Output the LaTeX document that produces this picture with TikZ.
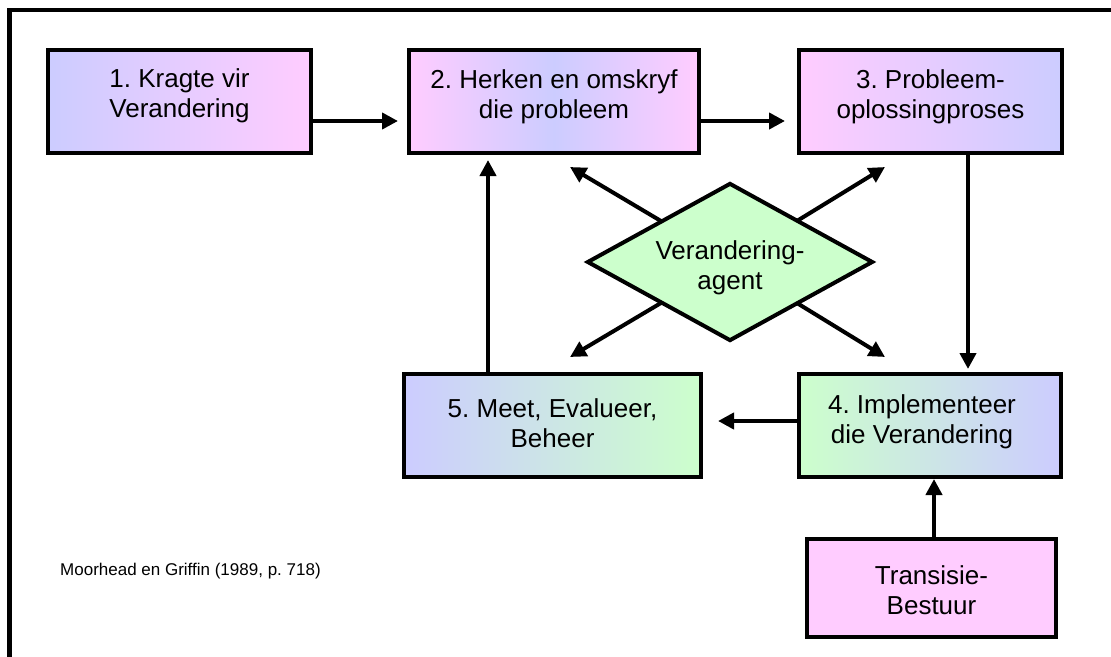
\documentclass[tikz,border=0pt]{standalone}
\usepackage{fontspec}
\setmainfont{Liberation Sans}
\usetikzlibrary{arrows.meta,shapes.geometric,calc}
\definecolor{lav}{RGB}{204,204,255}
\definecolor{pnk}{RGB}{255,204,255}
\definecolor{grn}{RGB}{204,255,204}
\begin{document}
\frenchspacing
\begin{tikzpicture}[x=1pt,y=-1pt,
  box/.style={draw=black,line width=4pt,rectangle,inner sep=0pt},
  btext/.style={align=center,font=\fontsize{26}{30}\selectfont,inner sep=0pt},
  arr/.style={line width=4pt,-{Triangle[length=16pt,width=16pt]}},
]
\useasboundingbox (0,0) rectangle (1111,656);
\fill[white] (0,0) rectangle (1111,656);
\draw[line width=4.5pt] (9.5,700) -- (9.5,10) -- (1200,10);

% boxes
\node[box,minimum width=263pt,minimum height=103pt,left color=lav,right color=pnk] (b1) at (179.5,101.5) {};
\node[box,minimum width=290pt,minimum height=103pt,left color=pnk,right color=pnk,middle color=lav] (b2) at (554,101.5) {};
\node[box,minimum width=263pt,minimum height=103pt,left color=pnk,right color=lav] (b3) at (930.5,101.5) {};
\node[box,minimum width=262pt,minimum height=103pt,left color=grn,right color=lav] (b4) at (930,425.5) {};
\node[box,minimum width=297pt,minimum height=103pt,left color=lav,right color=grn] (b5) at (552.5,425.5) {};
\node[box,minimum width=249pt,minimum height=98pt,fill=pnk] (bt) at (931.5,588) {};

% texts
\node[btext] (t1) at (179.5,96) {1. Kragte vir\\Verandering};
\node[btext] (t2) at (554,97) {2. Herken en omskryf\\die probleem};
\node[btext] (t3) at (930.5,97) {3. Probleem-\\oplossingproses};
\node[btext] (t4) at (922,422) {4. Implementeer\\die Verandering};
\node[btext] (t5) at (552.5,423) {5. Meet, Evalueer,\\Beheer};
\node[btext] (t6) at (931.5,590) {Transisie-\\Bestuur};
\node[font=\fontsize{17}{20}\selectfont,anchor=base west,inner sep=0pt] (src) at (60,575) {Moorhead en Griffin (1989, p. 718)};

% connectors between boxes
\coordinate (p1) at ($(b1.east)+(0,19.5)$);
\draw[arr,shorten >=9pt] (p1) -- (p1 -| b2.west);
\coordinate (p2) at ($(b2.east)+(0,19.5)$);
\draw[arr,shorten >=12pt] (p2) -- (p2 -| b3.west);
\coordinate (p3) at ($(b3.south)+(37.5,0)$);
\draw[arr,shorten >=3pt] (p3) -- (p3 |- b4.north);
\coordinate (p4) at ($(b4.west)+(0,-4.5)$);
\draw[arr,shorten >=15pt] (p4) -- (p4 -| b5.east);
\coordinate (p5) at ($(b5.north)+(-64.5,0)$);
\draw[arr,shorten >=5pt] (p5) -- (p5 |- b2.south);
\coordinate (p6) at ($(bt.north)+(2.5,0)$);
\draw[arr] (p6) -- (p6 |- b4.south);

% change agent
\coordinate (dc) at (730,262);
\coordinate (ul) at (570,167);
\coordinate (ur) at (885,167);
\coordinate (ll) at (570,357);
\coordinate (lr) at (885,357);
\draw[arr] (dc) -- (ul);
\draw[arr] (dc) -- (ur);
\draw[arr] (dc) -- (ll);
\draw[arr] (dc) -- (lr);
\node[diamond,draw=black,line width=4pt,fill=grn,minimum width=286pt,minimum height=158pt,aspect=1.79,inner sep=0pt] (ag) at (dc) {};
\node[btext] (agt) at (730,268) {Verandering-\\agent};
\end{tikzpicture}
\end{document}
